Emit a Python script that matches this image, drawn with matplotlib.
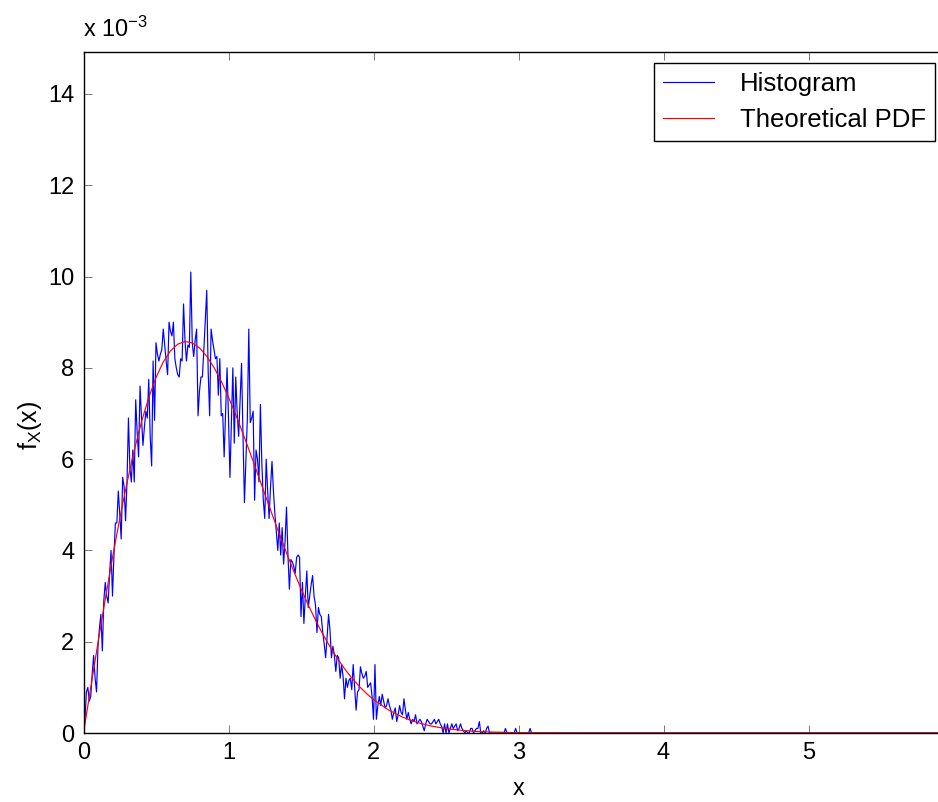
import numpy as np
import matplotlib
matplotlib.use("Agg")
import matplotlib.pyplot as plt

plt.rcParams['font.family'] = ['Liberation Sans', 'DejaVu Sans']
plt.rcParams['mathtext.default'] = 'regular'

# ---------------- data (density values in units of 1e-3) ----------------
bin_width = 0.01
hist_nonzero_e3 = [
    0.0, 0.3, 0.9, 1.0, 0.7, 0.8, 1.3, 1.7, 1.2, 0.9,          # 0.00-0.09
    1.9, 2.3, 2.6, 1.8, 2.9, 3.3, 3.0, 2.85, 3.5, 4.0,         # 0.10
    3.0, 3.9, 4.6, 4.6, 5.3, 4.8, 4.25, 5.6, 5.4, 4.65,        # 0.20
    5.5, 6.9, 5.8, 5.5, 6.2, 5.5, 7.3, 6.6, 6.05, 7.6,         # 0.30
    6.9, 6.3, 6.7, 7.05, 6.9, 7.75, 6.5, 5.85, 8.15, 6.85,     # 0.40
    8.55, 8.3, 8.15, 8.3, 8.4, 8.85, 8.5, 8.15, 7.85, 9.0,     # 0.50
    8.8, 8.7, 9.0, 8.2, 8.0, 7.85, 7.8, 8.2, 8.15, 9.4,        # 0.60
    8.6, 8.15, 8.5, 8.45, 10.1, 8.55, 8.25, 8.6, 8.85, 6.95,   # 0.70
    7.5, 7.8, 7.8, 8.4, 9.05, 9.7, 7.9, 6.95, 8.85, 8.6,       # 0.80
    8.4, 8.2, 8.25, 7.4, 8.2, 6.95, 7.0, 6.05, 7.0, 8.0,       # 0.90
    6.9, 5.6, 6.8, 8.0, 6.35, 7.8, 7.0, 6.5, 7.3, 8.1,         # 1.00
    6.5, 5.05, 6.0, 6.9, 8.85, 6.8, 6.9, 7.05, 5.1, 6.2,       # 1.10
    6.0, 5.5, 7.2, 5.9, 5.1, 4.7, 6.0, 5.3, 4.7, 5.4,          # 1.20
    5.95, 5.3, 4.8, 4.4, 4.0, 4.6, 3.9, 4.5, 3.7, 4.2,         # 1.30
    4.95, 3.9, 3.15, 3.8, 3.75, 3.65, 3.5, 3.85, 3.9, 3.85,    # 1.40
    2.55, 3.3, 2.4, 3.0, 3.55, 2.75, 3.0, 3.25, 3.45, 3.0,     # 1.50
    2.8, 2.2, 2.75, 2.6, 2.55, 2.2, 1.95, 1.65, 2.1, 2.6,      # 1.60
    2.25, 1.65, 1.9, 1.7, 1.35, 1.7, 1.65, 1.2, 1.5, 1.25,     # 1.70
    0.75, 1.2, 1.0, 1.15, 1.2, 0.95, 1.5, 1.0, 0.5, 0.9,       # 1.80
    0.95, 1.45, 1.3, 1.2, 1.25, 1.35, 1.0, 1.05, 1.1, 0.8,     # 1.90
    0.3, 1.5, 0.3, 0.6, 0.8, 0.6, 0.85, 0.7, 0.55, 0.6,        # 2.00
    0.75, 0.6, 0.5, 0.3, 0.45, 0.55, 0.25, 0.4, 0.6, 0.45,     # 2.10
    0.4, 0.75, 0.5, 0.3, 0.45, 0.3, 0.2, 0.3, 0.25, 0.4,       # 2.20
    0.2, 0.25, 0.3, 0.25, 0.15, 0.05, 0.2, 0.3, 0.25, 0.2,     # 2.30
    0.2, 0.25, 0.3, 0.2, 0.25, 0.3, 0.2, 0.15, 0.0, 0.2,       # 2.40
    0.0, 0.2, 0.0, 0.1, 0.2, 0.1, 0.15, 0.2, 0.05, 0.1,        # 2.50
    0.2, 0.1, 0.05, 0.0, 0.05, 0.0, 0.0, 0.1, 0.1, 0.0,        # 2.60
    0.05, 0.1, 0.1, 0.25, 0.0, 0.0, 0.05, 0.0, 0.1, 0.15,      # 2.70
    0.0, 0.0, 0.0, 0.0, 0.0, 0.0, 0.0, 0.0, 0.0, 0.0,          # 2.80
    0.0, 0.1, 0.0, 0.0, 0.0, 0.0, 0.0, 0.0, 0.1, 0.0,          # 2.90
    0.0, 0.0, 0.0, 0.0, 0.0, 0.0, 0.0, 0.0, 0.1, 0.0,          # 3.00
]
hist_zero_bins = 290          # remaining empty bins up to x = 6.0
hist_e3 = hist_nonzero_e3 + [0.0] * hist_zero_bins

pdf_x = [0.00, 0.05, 0.10, 0.15, 0.20, 0.25, 0.30, 0.35, 0.40, 0.45,
         0.50, 0.55, 0.60, 0.65, 0.70, 0.75, 0.80, 0.85, 0.90, 0.95,
         1.00, 1.05, 1.10, 1.15, 1.20, 1.25, 1.30, 1.35, 1.40, 1.45,
         1.50, 1.55, 1.60, 1.65, 1.70, 1.75, 1.80, 1.85, 1.90, 1.95,
         2.00, 2.10, 2.20, 2.30, 2.40, 2.50, 2.60, 2.70, 2.80, 3.00,
         3.50, 6.00]
pdf_e3 = [0.000, 0.998, 1.980, 2.933, 3.843, 4.697, 5.484, 6.193, 6.817, 7.350,
          7.788, 8.129, 8.372, 8.520, 8.577, 8.546, 8.437, 8.253, 8.009, 7.706,
          7.358, 6.974, 6.560, 6.129, 5.686, 5.240, 4.797, 4.364, 3.944, 3.543,
          3.162, 2.806, 2.473, 2.167, 1.889, 1.637, 1.410, 1.207, 1.028, 0.870,
          0.733, 0.511, 0.348, 0.232, 0.151, 0.097, 0.060, 0.037, 0.022, 0.007,
          0.000, 0.000]

x_ticks = [0, 1, 2, 3, 4, 5]
y_ticks = [0, 2, 4, 6, 8, 10, 12, 14]

# ---------------- figure ----------------
W, H = 938, 802
fig = plt.figure(figsize=(W / 100, H / 100), dpi=100)
left, right_px, top, bottom = 83.5, 953.5, 52, 733
ax = fig.add_axes([left / W, (H - bottom) / H, (right_px - left) / W, (bottom - top) / H])

bin_x = np.arange(len(hist_e3)) * bin_width
ax.plot(bin_x, hist_e3, color=(0, 0, 1), lw=0.85, label='Histogram')
ax.plot(pdf_x, pdf_e3, color=(1, 0, 0), lw=0.85, label='Theoretical PDF')

ax.set_xlim(0, 6)
ax.set_ylim(0, 14.92)
ax.set_xticks(x_ticks)
ax.set_yticks(y_ticks)
ax.tick_params(direction='in', length=5.8, width=0.5, labelsize=17, pad=6.5,
               top=True, right=True, color='#444444')
for s in ax.spines.values():
    s.set_linewidth(1.0)

ax.set_xlabel('x', fontsize=17, labelpad=10)
ax.set_ylabel('f$_X$(x)', fontsize=18)
ax.yaxis.set_label_coords((44 - left) / (right_px - left), (bottom - 425) / (bottom - top))

fig.text(83 / W, 1 - 37 / H, 'x 10$^{-3}$', fontsize=17, ha='left', va='baseline')

leg = ax.legend(loc='upper right', bbox_to_anchor=(935 / W, 1 - 63 / H),
                bbox_transform=fig.transFigure, fontsize=18.5, fancybox=False,
                framealpha=1, edgecolor='black', handlelength=2.0,
                handletextpad=1.0, borderpad=0.35, labelspacing=0.45,
                borderaxespad=0)
leg.get_frame().set_linewidth(1.0)

fig.savefig('out.png', dpi=100)
